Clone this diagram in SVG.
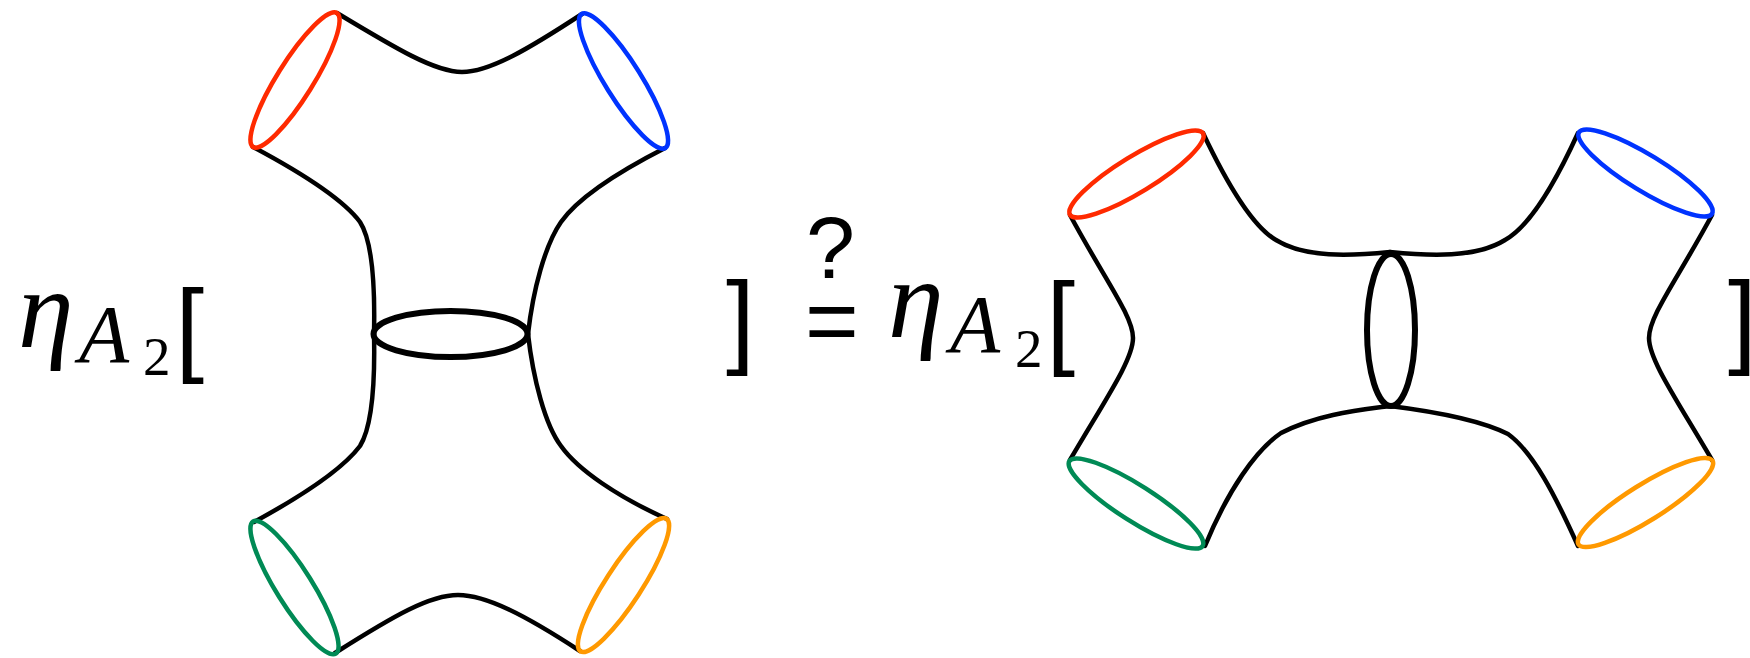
<svg xmlns="http://www.w3.org/2000/svg" width="1750" height="658" viewBox="0 0 1750 658">
<style>
.c{fill:none;stroke:#000;stroke-width:4.5;stroke-linecap:round}
.r{fill:none;stroke-width:4.5}
.neck{fill:none;stroke:#000;stroke-width:6}
.red{stroke:#FF2A00}.blue{stroke:#0033FF}.green{stroke:#008A55}.orange{stroke:#FF9900}
.math{font-family:"Liberation Serif","DejaVu Serif",serif;font-style:italic;fill:#000}
.rm{font-family:"Liberation Serif","DejaVu Serif",serif;fill:#000}
.sans{font-family:"Liberation Sans",Arial,sans-serif;fill:#000}
</style>
<rect width="1750" height="658" fill="#fff"/>
<g id="connectors">
  <!-- left diagram -->
  <path class="c" d="M337,13 C395,48 435,72 462,72 C490,72 530,48 582,14"/>
  <path class="c" d="M335,653 C395,615 430,595 458,595 C486,595 525,615 580,651"/>
  <path class="c" d="M253,147 C300,172 342,198 360,222 C373,242 375,290 374,334"/>
  <path class="c" d="M374,334 C375,378 373,425 360,446 C342,470 300,497 254,522"/>
  <path class="c" d="M665,148 C618,172 578,198 561,222 C545,245 533,290 528,334"/>
  <path class="c" d="M528,334 C533,378 545,425 561,446 C578,470 618,497 667,519"/>
  <!-- right diagram -->
  <path class="c" d="M1070,215 C1105,280 1133,316 1133,338 C1133,360 1105,400 1070,460"/>
  <path class="c" d="M1712,215 C1677,280 1649,316 1649,338 C1649,360 1677,400 1712,460"/>
  <path class="c" d="M1203,133 C1230,190 1255,228 1276,240 C1305,258 1350,256 1390,252"/>
  <path class="c" d="M1390,252 C1430,256 1476,258 1505,240 C1527,228 1552,190 1578,133"/>
  <path class="c" d="M1205,546 C1228,490 1256,450 1281,433 C1318,414 1360,410 1390,406"/>
  <path class="c" d="M1390,406 C1422,410 1476,418 1508,434 C1533,452 1555,495 1578,546"/>
</g>
<g id="left-red"><ellipse class="r red" cx="295" cy="80" rx="79" ry="18" transform="rotate(-58 295 80)"/></g>
<g id="left-blue"><ellipse class="r blue" cx="623.5" cy="81" rx="79" ry="18" transform="rotate(58 623.5 81)"/></g>
<g id="left-green"><ellipse class="r green" cx="294.5" cy="587.5" rx="78" ry="18" transform="rotate(58 294.5 587.5)"/></g>
<g id="left-orange"><ellipse class="r orange" cx="623.5" cy="585" rx="79" ry="18" transform="rotate(-57 623.5 585)"/></g>
<g id="left-neck"><ellipse class="neck" cx="450.5" cy="334" rx="77" ry="23"/></g>
<g id="right-red"><ellipse class="r red" cx="1136.5" cy="174" rx="78" ry="18" transform="rotate(-31.5 1136.5 174)"/></g>
<g id="right-blue"><ellipse class="r blue" cx="1645.5" cy="173" rx="78" ry="18" transform="rotate(31.5 1645.5 173)"/></g>
<g id="right-green"><ellipse class="r green" cx="1136" cy="503.5" rx="79" ry="18" transform="rotate(32.5 1136 503.5)"/></g>
<g id="right-orange"><ellipse class="r orange" cx="1645.5" cy="502.5" rx="79" ry="18" transform="rotate(-32 1645.5 502.5)"/></g>
<g id="right-neck"><ellipse class="neck" cx="1391" cy="330" rx="24" ry="76"/></g>
<g id="label-left">
  <text class="math" x="18" y="347" font-size="112">η</text>
  <text class="math" x="79" y="362" font-size="82">A</text>
  <text class="rm" x="143" y="375" font-size="55">2</text>
  <text class="sans" x="175.5" y="362" font-size="103">[</text>
  <text class="sans" x="726" y="354" font-size="103">]</text>
</g>
<g id="label-eq">
  <text class="sans" x="806" y="278" font-size="88">?</text>
  <text class="sans" x="805" y="353" font-size="92">=</text>
</g>
<g id="label-right">
  <text class="math" x="888" y="337" font-size="112">η</text>
  <text class="math" x="950" y="352" font-size="82">A</text>
  <text class="rm" x="1015" y="367" font-size="55">2</text>
  <text class="sans" x="1046.5" y="355" font-size="103">[</text>
  <text class="sans" x="1728" y="354" font-size="103">]</text>
</g>
</svg>
